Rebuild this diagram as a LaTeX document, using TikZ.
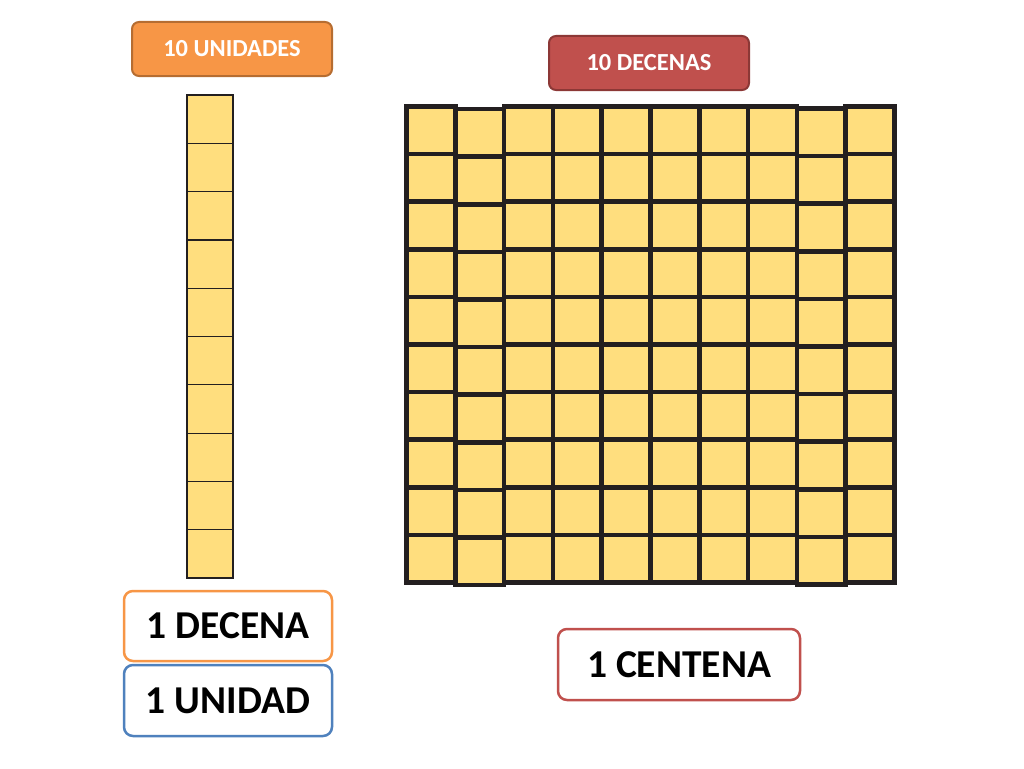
\documentclass[tikz,border=0pt]{standalone}
\usepackage{fontspec}
\setmainfont{Carlito}
\definecolor{cellfill}{HTML}{FFDE7E}
\definecolor{gridline}{HTML}{231F20}
\definecolor{orangefill}{HTML}{F79646}
\definecolor{orangeline}{HTML}{B66D31}
\definecolor{redfill}{HTML}{C0504D}
\definecolor{redline}{HTML}{8C3836}
\definecolor{blueline}{HTML}{4F81BD}
\tikzset{
  tag/.style={rounded corners=7pt, line width=2pt, text=white, font=\bfseries\fontsize{24.5}{28}\selectfont, minimum width=200pt, minimum height=54pt, inner sep=0pt},
  label/.style={rounded corners=9pt, line width=2.5pt, fill=white, text=black, font=\bfseries\fontsize{39.5}{44}\selectfont, inner sep=0pt},
  rodcell/.style={fill=cellfill, draw=gridline, line width=1.2pt},
  gridcell/.style={fill=cellfill, draw=gridline, line width=4.6pt, line join=miter}
}
\begin{document}
\begin{tikzpicture}[x=1pt,y=-1pt]
\useasboundingbox (0,0) rectangle (1024,768);
% rod of ten units
\foreach \k in {0,...,9} {
  \draw[rodcell] (187,{95+\k*48.3}) rectangle (233,{95+(\k+1)*48.3});
}
% hundred square: ten columns
\foreach \i/\dy in {0/0,1/2.5,2/0,3/0,4/0,5/0,6/0,7/0,8/2,9/0} {
  \foreach \k in {0,...,9} {
    \draw[gridcell] ({406.5+\i*48.8},{106.5+\dy+\k*47.6}) rectangle ({406.5+(\i+1)*48.8},{106.5+\dy+(\k+1)*47.6});
  }
}
% labels
\node[tag, fill=orangefill, draw=orangeline] (unidades) at (232,49) {10 UNIDADES};
\node[tag, fill=redfill, draw=redline] (decenas) at (649,63) {10 DECENAS};
\node[label, draw=orangefill, minimum width=208pt, minimum height=70pt] (decena) at (228,626) {1 DECENA};
\node[label, draw=blueline, minimum width=208pt, minimum height=71pt] (unidad) at (228,700.5) {1 UNIDAD};
\node[label, draw=redfill, minimum width=242pt, minimum height=71pt] (centena) at (679,664.5) {1 CENTENA};
\end{tikzpicture}
\end{document}
